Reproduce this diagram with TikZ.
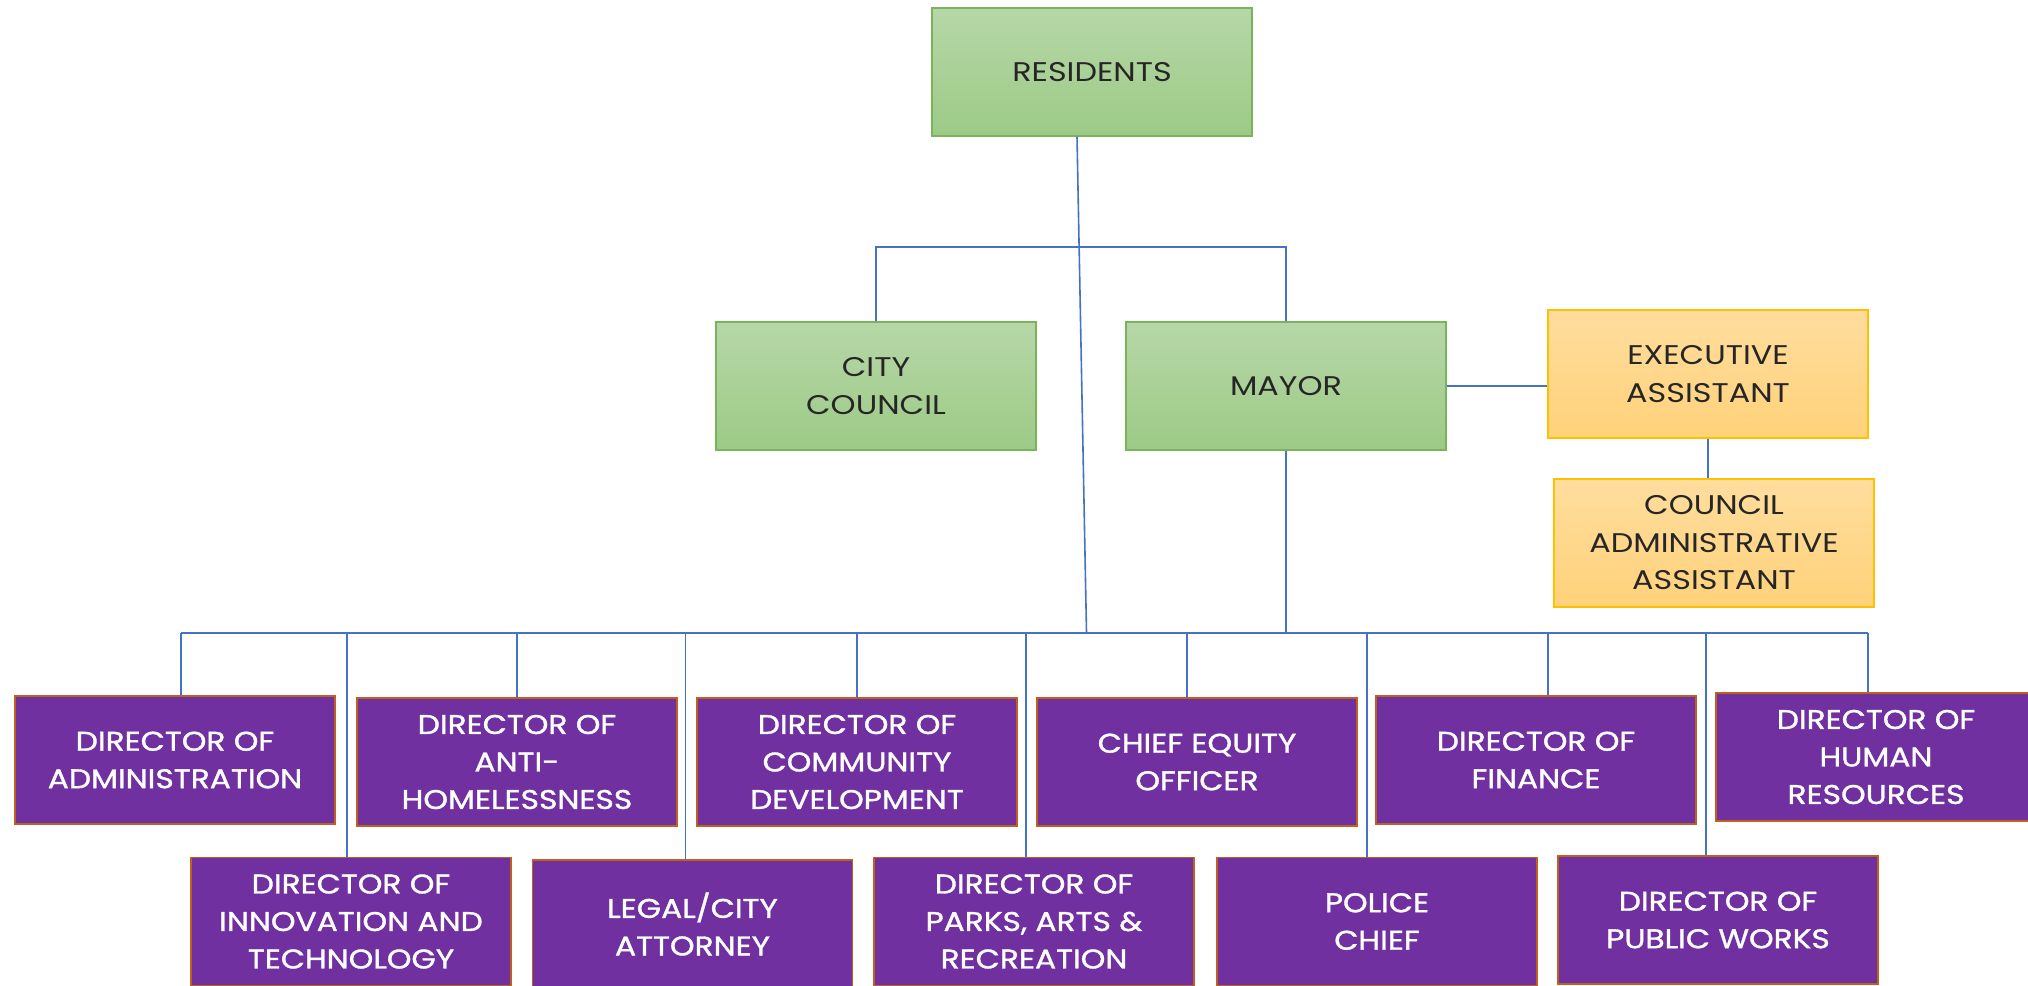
\documentclass[tikz,border=0pt]{standalone}
\usepackage{fontspec}
\setmainfont{Poppins}
\newfontfamily\darkfont[FakeStretch=1.18]{Poppins}
\newfontfamily\whitefont[FakeStretch=1.16,FakeBold=1.2]{Poppins}
\definecolor{gtop}{HTML}{B6D7A8}
\definecolor{gbot}{HTML}{9DCA86}
\definecolor{gborder}{HTML}{7AB35A}
\definecolor{otop}{HTML}{FFDD9E}
\definecolor{obot}{HTML}{FFD27A}
\definecolor{oborder}{HTML}{FFC000}
\definecolor{purp}{HTML}{7030A0}
\definecolor{pborder}{HTML}{C0601E}
\definecolor{conn}{HTML}{4472C4}
\begin{document}
\begin{tikzpicture}[x=1pt,y=-1pt,
  box/.style={rectangle, minimum width=320pt, minimum height=128pt, inner sep=0pt, align=center},
  greenbox/.style={box, top color=gtop, bottom color=gbot, draw=gborder, line width=1.5pt, text=black!85, font=\darkfont\fontsize{27}{37.5}\selectfont},
  orangebox/.style={box, top color=otop, bottom color=obot, draw=oborder, line width=1.8pt, text=black!85, font=\darkfont\fontsize{27}{37.5}\selectfont},
  purplebox/.style={box, fill=purp, draw=pborder, line width=1.2pt, text=white, font=\whitefont\fontsize{27}{37.5}\selectfont},
  link/.style={draw=conn, line width=1.6pt}]
\useasboundingbox (0,0) rectangle (2028,985);
\fill[white] (0,0) rectangle (2028,985);

% top levels
\node[greenbox] (res) at (1092,72) {RESIDENTS};
\node[greenbox] (cc) at (876,386) {CITY\\COUNCIL};
\node[greenbox] (mayor) at (1286,386) {MAYOR};
\node[orangebox] (ea) at (1708,374) {EXECUTIVE\\ASSISTANT};
\node[orangebox] (caa) at (1714,543) {COUNCIL\\ADMINISTRATIVE\\ASSISTANT};

% directors row 1
\node[purplebox] (adm) at (175,760) {DIRECTOR OF\\ADMINISTRATION};
\node[purplebox] (anti) at (517,762) {DIRECTOR OF\\ANTI-\\HOMELESSNESS};
\node[purplebox] (comm) at (857,762) {DIRECTOR OF\\COMMUNITY\\DEVELOPMENT};
\node[purplebox] (equity) at (1197,762) {CHIEF EQUITY\\OFFICER};
\node[purplebox] (fin) at (1536,760) {DIRECTOR OF\\FINANCE};
\node[purplebox] (hr) at (1876,757) {DIRECTOR OF\\HUMAN\\RESOURCES};

% directors row 2
\node[purplebox] (innov) at (351,921.5) {DIRECTOR OF\\INNOVATION AND\\TECHNOLOGY};
\node[purplebox] (legal) at (692.5,924) {LEGAL/CITY\\ATTORNEY};
\node[purplebox] (parks) at (1034,921.5) {DIRECTOR OF\\PARKS, ARTS \&\\RECREATION};
\node[purplebox] (police) at (1377,921.5) {POLICE\\CHIEF};
\node[purplebox] (pw) at (1718,920) {DIRECTOR OF\\PUBLIC WORKS};

\coordinate (bus) at (0,633);
\coordinate (br) at (1080,247);
\coordinate (resfoot) at (1086.5,633);

\draw[link] ([xshift=-15pt]res.south) -- (resfoot);
\draw[link] (cc.north) |- (br) -| (mayor.north);
\draw[link] (mayor.east) -- (mayor.east -| ea.west);
\draw[link] (ea.south) -- (ea.south |- caa.north);
\draw[link] (mayor.south) -- (mayor.south |- bus);
\draw[link] ([xshift=6pt]adm.north |- bus) -- ([xshift=-8pt]hr.north |- bus);

\draw[link] ([xshift=6pt]adm.north) -- ([xshift=6pt]adm.north |- bus);
\draw[link] (anti.north) -- (anti.north |- bus);
\draw[link] (comm.north) -- (comm.north |- bus);
\draw[link] ([xshift=-10pt]equity.north) -- ([xshift=-10pt]equity.north |- bus);
\draw[link] ([xshift=12pt]fin.north) -- ([xshift=12pt]fin.north |- bus);
\draw[link] ([xshift=-8pt]hr.north) -- ([xshift=-8pt]hr.north |- bus);

\draw[link] ([xshift=-4pt]innov.north) -- ([xshift=-4pt]innov.north |- bus);
\draw[link] ([xshift=-7pt]legal.north) -- ([xshift=-7pt]legal.north |- bus);
\draw[link] ([xshift=-8pt]parks.north) -- ([xshift=-8pt]parks.north |- bus);
\draw[link] ([xshift=-10pt]police.north) -- ([xshift=-10pt]police.north |- bus);
\draw[link] ([xshift=-12pt]pw.north) -- ([xshift=-12pt]pw.north |- bus);
\end{tikzpicture}
\end{document}
